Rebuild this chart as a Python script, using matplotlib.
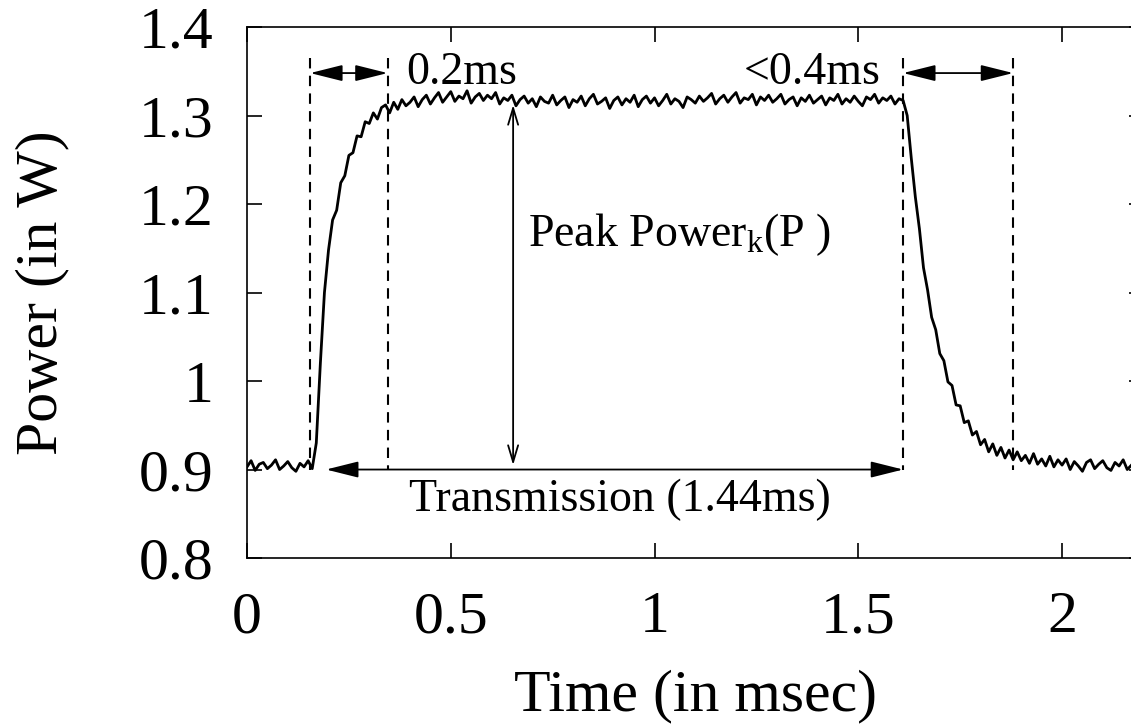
import numpy as np
import matplotlib.pyplot as plt

plt.rcParams['font.family'] = ['Liberation Serif', 'DejaVu Serif']
plt.rcParams['mathtext.fontset'] = 'custom'
plt.rcParams['mathtext.rm'] = 'Liberation Serif'
plt.rcParams['mathtext.it'] = 'Liberation Serif:italic'

# sampled trace, one reading every 0.01 ms from 0 to 2.2 ms
time_ms = np.round(np.arange(0, 2.2001, 0.01), 2)
power_w = [
    0.903, 0.910, 0.899, 0.906, 0.908, 0.901, 0.905, 0.911, 0.900, 0.904,
    0.909, 0.902, 0.898, 0.907, 0.903, 0.910, 0.901, 0.930, 1.020, 1.100,
    1.148, 1.182, 1.193, 1.224, 1.232, 1.255, 1.258, 1.277, 1.276, 1.293,
    1.291, 1.303, 1.296, 1.309, 1.312, 1.303, 1.315, 1.307, 1.318, 1.311,
    1.315, 1.321, 1.310, 1.318, 1.323, 1.313, 1.320, 1.326, 1.315, 1.321,
    1.327, 1.316, 1.322, 1.319, 1.328, 1.314, 1.321, 1.325, 1.317, 1.323,
    1.319, 1.326, 1.313, 1.320, 1.317, 1.323, 1.311, 1.318, 1.322, 1.314,
    1.319, 1.310, 1.321, 1.316, 1.314, 1.323, 1.312, 1.317, 1.321, 1.309,
    1.318, 1.315, 1.322, 1.311, 1.319, 1.324, 1.313, 1.316, 1.320, 1.308,
    1.317, 1.321, 1.312, 1.319, 1.315, 1.323, 1.310, 1.318, 1.322, 1.314,
    1.320, 1.311, 1.317, 1.324, 1.313, 1.319, 1.316, 1.309, 1.321, 1.318,
    1.314, 1.322, 1.316, 1.320, 1.325, 1.313, 1.319, 1.323, 1.315, 1.321,
    1.326, 1.314, 1.320, 1.318, 1.324, 1.312, 1.321, 1.317, 1.323, 1.315,
    1.319, 1.324, 1.313, 1.318, 1.321, 1.311, 1.320, 1.316, 1.323, 1.314,
    1.318, 1.322, 1.312, 1.320, 1.317, 1.324, 1.313, 1.319, 1.315, 1.322,
    1.316, 1.311, 1.321, 1.318, 1.324, 1.314, 1.320, 1.317, 1.322, 1.313,
    1.319, 1.317, 1.300, 1.252, 1.208, 1.172, 1.128, 1.103, 1.072, 1.058,
    1.031, 1.023, 0.999, 0.995, 0.973, 0.972, 0.953, 0.955, 0.939, 0.943,
    0.928, 0.934, 0.920, 0.929, 0.916, 0.925, 0.913, 0.922, 0.911, 0.920,
    0.910, 0.916, 0.907, 0.918, 0.906, 0.912, 0.904, 0.915, 0.903, 0.911,
    0.905, 0.912, 0.900, 0.909, 0.904, 0.898, 0.908, 0.911, 0.901, 0.906,
    0.910, 0.902, 0.899, 0.908, 0.904, 0.911, 0.900, 0.905, 0.909, 0.901, 0.906,
]

# annotation markers (ms)
rise_start, rise_end = 0.155, 0.345
fall_start, fall_end = 1.61, 1.88
peak_at = 0.653
base_level, top_level = 0.9, 1.365
span_level = 1.348

xticks = [0, 0.5, 1, 1.5, 2]
xtick_labels = ['0', '0.5', '1', '1.5', '2']
yticks = [0.8, 0.9, 1.0, 1.1, 1.2, 1.3, 1.4]
ytick_labels = ['0.8', '0.9', '1', '1.1', '1.2', '1.3', '1.4']

fig = plt.figure(figsize=(11.31, 7.25), dpi=100)
ax = fig.add_axes([0.2184, 0.2303, 0.7927, 0.7324])

ax.plot(time_ms, power_w, color='black', lw=2.0)

for xv in [rise_start, rise_end, fall_start, fall_end]:
    ax.plot([xv, xv], [top_level, base_level], color='black', lw=1.5,
            linestyle=(0, (5, 3.5)))

filled = dict(arrowstyle='<|-|>,head_length=1.0,head_width=0.25', color='black',
              lw=1.3, mutation_scale=20, shrinkA=0, shrinkB=0)
ax.annotate('', xy=(rise_start, span_level), xytext=(rise_end, span_level), arrowprops=filled)
ax.annotate('', xy=(fall_start, span_level), xytext=(fall_end, span_level), arrowprops=filled)
ax.annotate('', xy=(0.194, base_level), xytext=(fall_start, base_level), arrowprops=filled)
ax.annotate('', xy=(peak_at, 1.312), xytext=(peak_at, 0.905),
            arrowprops=dict(arrowstyle='<->,head_length=0.6,head_width=0.18', color='black',
                            lw=1.3, mutation_scale=20, shrinkA=0, shrinkB=0))

ax.text(0.39, span_level, '0.2ms', fontsize=33, ha='left', va='center')
ax.text(1.555, span_level, '<0.4ms', fontsize=33, ha='right', va='center')
ax.text(0.69, 1.165, r'Peak Power$_{\mathrm{k}}$(P )', fontsize=33, ha='left', va='center')
ax.text(0.915, 0.866, 'Transmission (1.44ms)', fontsize=33, ha='center', va='center')

ax.set_xlim(0, 2.2)
ax.set_ylim(0.8, 1.4)
ax.set_xticks(xticks)
ax.set_xticklabels(xtick_labels)
ax.set_yticks(yticks)
ax.set_yticklabels(ytick_labels)
ax.tick_params(direction='in', length=11, width=1.2, top=True, right=True,
               labelsize=43)
ax.tick_params(axis='y', pad=24)
ax.tick_params(axis='x', pad=24)
for s in ax.spines.values():
    s.set_linewidth(1.2)

ax.set_xlabel('Time (in msec)', fontsize=43, labelpad=17)
ax.set_ylabel('Power (in W)', fontsize=43, labelpad=50)

fig.savefig('out.png', dpi=100)
